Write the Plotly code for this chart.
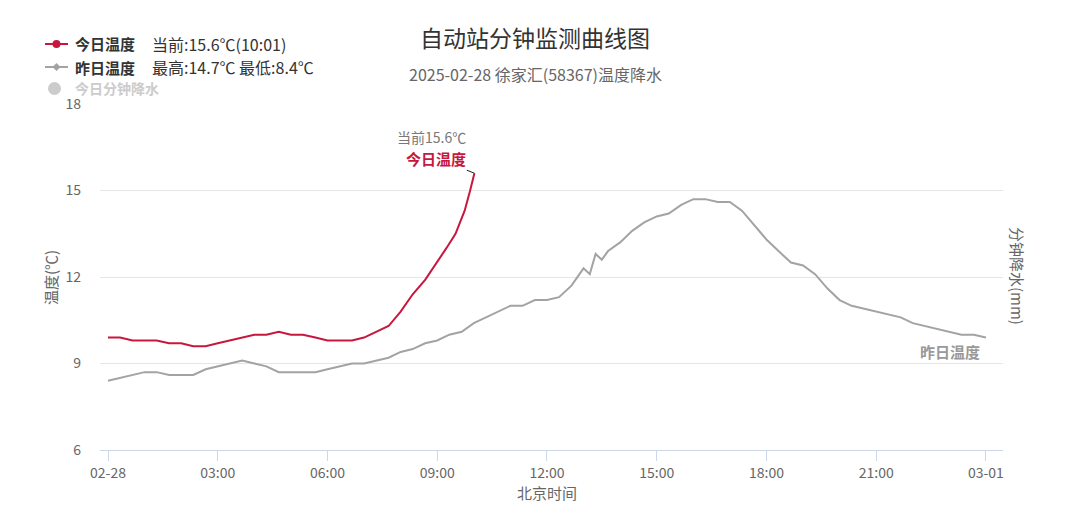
import plotly.graph_objects as go

# ---------------- data ----------------
tick_hours = [0, 3, 6, 9, 12, 15, 18, 21, 24]
tick_labels = ["02-28", "03:00", "06:00", "09:00", "12:00", "15:00", "18:00", "21:00", "03-01"]
y_ticks = [6, 9, 12, 15, 18]

yest_hours = [0.0, 0.33, 0.67, 1.0, 1.33, 1.67, 2.0, 2.33, 2.67, 3.0, 3.33, 3.67, 4.0, 4.33,
              4.67, 5.0, 5.33, 5.67, 6.0, 6.33, 6.67, 7.0, 7.33, 7.67, 8.0, 8.33, 8.67, 9.0,
              9.33, 9.67, 10.0, 10.33, 10.67, 11.0, 11.33, 11.67, 12.0, 12.33, 12.67, 13.0,
              13.17, 13.33, 13.5, 13.67, 14.0, 14.33, 14.67, 15.0, 15.33, 15.67, 16.0, 16.33,
              16.67, 17.0, 17.33, 17.67, 18.0, 18.33, 18.67, 19.0, 19.33, 19.67, 20.0, 20.33,
              20.67, 21.0, 21.33, 21.67, 22.0, 22.33, 22.67, 23.0, 23.33, 23.67, 24.0]
yest_temp = [8.4, 8.5, 8.6, 8.7, 8.7, 8.6, 8.6, 8.6, 8.8, 8.9, 9.0, 9.1, 9.0, 8.9,
             8.7, 8.7, 8.7, 8.7, 8.8, 8.9, 9.0, 9.0, 9.1, 9.2, 9.4, 9.5, 9.7, 9.8,
             10.0, 10.1, 10.4, 10.6, 10.8, 11.0, 11.0, 11.2, 11.2, 11.3, 11.7, 12.3,
             12.1, 12.8, 12.6, 12.9, 13.2, 13.6, 13.9, 14.1, 14.2, 14.5, 14.7, 14.7,
             14.6, 14.6, 14.3, 13.8, 13.3, 12.9, 12.5, 12.4, 12.1, 11.6, 11.2, 11.0,
             10.9, 10.8, 10.7, 10.6, 10.4, 10.3, 10.2, 10.1, 10.0, 10.0, 9.9]

today_hours = [0.0, 0.33, 0.67, 1.0, 1.33, 1.67, 2.0, 2.33, 2.67, 3.0, 3.33, 3.67, 4.0, 4.33,
               4.67, 5.0, 5.33, 5.67, 6.0, 6.33, 6.67, 7.0, 7.33, 7.67, 8.0, 8.33, 8.67,
               9.0, 9.25, 9.5, 9.75, 9.9, 10.0167]
today_temp = [9.9, 9.9, 9.8, 9.8, 9.8, 9.7, 9.7, 9.6, 9.6, 9.7, 9.8, 9.9, 10.0, 10.0,
              10.1, 10.0, 10.0, 9.9, 9.8, 9.8, 9.8, 9.9, 10.1, 10.3, 10.8, 11.4, 11.9,
              12.5, 13.0, 13.5, 14.3, 15.0, 15.6]

RED = "#c8173f"
GREY = "#a3a3a3"
FONT = "Noto Sans CJK SC"

# page offset (default body margin) and target plot area in page pixels
OFF = 8
L, R, T, B = 100, 1003, 104, 450
W, H = 1080, 523


def px(x):
    return (x - L) / (R - L)


def py(y):
    return (B - y) / (B - T)


def label(x, y, text, size, color, xanchor="center", angle=0):
    return dict(x=px(x), y=py(y), xref="paper", yref="paper", text=text, textangle=angle,
                xanchor=xanchor, yanchor="middle", showarrow=False,
                font=dict(size=size, color=color, family=FONT))


fig = go.Figure()
fig.add_trace(go.Scatter(x=yest_hours, y=yest_temp, mode="lines",
                         line=dict(color=GREY, width=2), hoverinfo="skip"))
fig.add_trace(go.Scatter(x=today_hours, y=today_temp, mode="lines",
                         line=dict(color=RED, width=2), hoverinfo="skip"))

ann = []
shapes = []

# title / subtitle
ann.append(label(535, 37, "自动站分钟监测曲线图", 23, "#333333"))
ann.append(label(535, 74, "2025-02-28 徐家汇(58367)温度降水", 16, "#666666"))

# custom legend
shapes.append(dict(type="line", xref="paper", yref="paper", x0=px(45), x1=px(68), y0=py(44), y1=py(44),
                   line=dict(color=RED, width=2)))
shapes.append(dict(type="circle", xref="paper", yref="paper", x0=px(52.5), x1=px(60.5), y0=py(40), y1=py(48),
                   fillcolor=RED, line=dict(color=RED, width=0)))
ann.append(label(73, 44, "<b>今日温度</b>", 15, "#333333", "left"))
ann.append(label(150, 44, "当前:15.6℃(10:01)", 16, "#333333", "left"))

shapes.append(dict(type="line", xref="paper", yref="paper", x0=px(45), x1=px(68), y0=py(67), y1=py(67),
                   line=dict(color=GREY, width=2)))
shapes.append(dict(type="path", xref="paper", yref="paper",
                   path=f"M {px(56.5)} {py(63)} L {px(60.5)} {py(67)} L {px(56.5)} {py(71)} L {px(52.5)} {py(67)} Z",
                   fillcolor=GREY, line=dict(color=GREY, width=0)))
ann.append(label(73, 67, "<b>昨日温度</b>", 15, "#333333", "left"))
ann.append(label(150, 67, "最高:14.7℃ 最低:8.4℃", 16, "#333333", "left"))

shapes.append(dict(type="circle", xref="paper", yref="paper", x0=px(48), x1=px(61), y0=py(82), y1=py(95),
                   fillcolor="#cccccc", line=dict(color="#cccccc", width=0)))
ann.append(label(73, 88, "<b>今日分钟降水</b>", 14, "#cccccc", "left"))

# data labels
ann.append(dict(x=today_hours[-1], y=today_temp[-1], xref="x", yref="y", text="<b>今日温度</b>",
                showarrow=True, arrowhead=0, arrowwidth=1, arrowcolor="#222222", ax=-38, ay=-15,
                font=dict(size=15, color=RED, family=FONT)))
ann.append(label(431, 137, "当前15.6℃", 14, "#777777"))
ann.append(label(950, 351, "<b>昨日温度</b>", 15, "#999999"))

# axis titles
ann.append(label(50, 278, "温度(℃)", 15, "#666666", angle=-90))
ann.append(label(1018, 276, "分钟降水(mm)", 15, "#666666", angle=90))
ann.append(label(547, 493, "北京时间", 15, "#666666"))

x0 = (L - 108) / 36.58
x1 = (R - 108) / 36.58

fig.update_layout(
    width=W, height=H,
    margin=dict(l=L - OFF, r=W - R + OFF, t=T - OFF, b=H - B + OFF, pad=0),
    paper_bgcolor="white", plot_bgcolor="white",
    showlegend=False,
    font=dict(family=FONT, color="#666666"),
    annotations=ann, shapes=shapes,
    xaxis=dict(range=[x0, x1], tickvals=tick_hours, ticktext=tick_labels, showgrid=False,
               showline=True, linecolor="#ccd6eb", linewidth=1, ticks="outside", ticklen=10,
               tickcolor="#ccd6eb", tickfont=dict(size=14, color="#666666"), zeroline=False,
               fixedrange=True),
    yaxis=dict(range=[6, 18], tickvals=y_ticks, showgrid=True, gridcolor="#e6e6e6", gridwidth=1,
               zeroline=False, showline=False, ticks="", ticklabelstandoff=18,
               tickfont=dict(size=14, color="#666666"), fixedrange=True),
)

fig.write_html("out.html", config={"displayModeBar": False})
